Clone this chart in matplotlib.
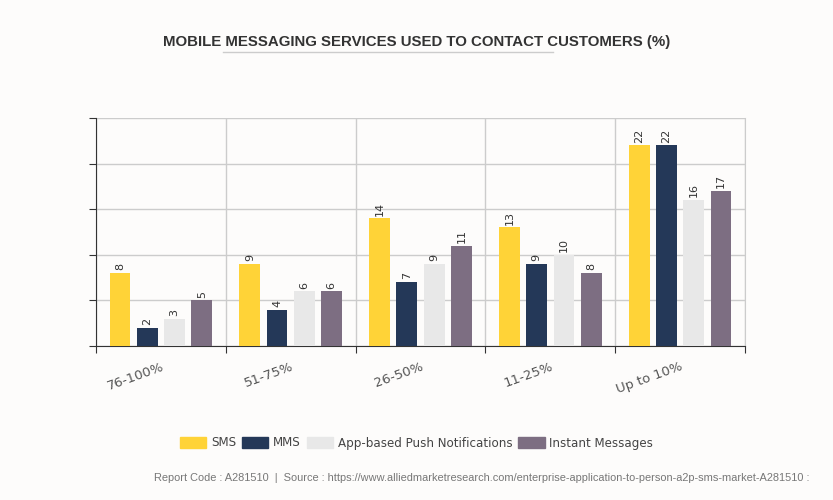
import numpy as np
import matplotlib.pyplot as plt
from matplotlib.lines import Line2D

categories = ['76-100%', '51-75%', '26-50%', '11-25%', 'Up to 10%']
sms = [8, 9, 14, 13, 22]
mms = [2, 4, 7, 9, 22]
app_push = [3, 6, 9, 10, 16]
instant = [5, 6, 11, 8, 17]

series = [
    ('SMS', sms, '#FFD337'),
    ('MMS', mms, '#243858'),
    ('App-based Push Notifications', app_push, '#E8E8E8'),
    ('Instant Messages', instant, '#7D6E82'),
]

bg = '#FDFCFB'
fig = plt.figure(figsize=(8.33, 5), dpi=100, facecolor=bg)
ax = fig.add_axes([96 / 833, 1 - 346 / 500, (745 - 96) / 833, (346 - 118) / 500])
ax.set_facecolor(bg)

x = np.arange(len(categories))
width = 0.16
step = 0.21
for i, (name, vals, color) in enumerate(series):
    pos = x + (i - 1.5) * step
    bars = ax.bar(pos, vals, width, color=color, label=name, zorder=3)
    for b, v in zip(bars, vals):
        ax.text(b.get_x() + b.get_width() / 2, v + 0.3, str(v), rotation=90,
                ha='center', va='bottom', fontsize=8, color='#333333', zorder=4)

ax.set_xlim(-0.5, len(categories) - 0.5)
ax.set_ylim(0, 25)
ax.set_yticks(np.arange(0, 26, 5))
ax.set_yticklabels([])
ax.set_xticks(np.arange(-0.5, len(categories), 1))
ax.set_xticklabels([])
ax.set_xticks(x, minor=True)
ax.set_xticklabels(categories, minor=True, rotation=20, fontsize=9.5, color='#555555')
ax.tick_params(axis='x', which='minor', length=0, pad=10)
ax.tick_params(axis='x', which='major', length=5, color='#333333')
ax.tick_params(axis='y', length=5, color='#333333')
for lbl in ax.get_xticklabels(minor=True):
    lbl.set_ha('right')
    lbl.set_rotation_mode('anchor')

ax.grid(True, which='major', color='#CCCCCC', linewidth=1, zorder=0)
ax.spines['top'].set_visible(False)
ax.spines['right'].set_color('#CCCCCC')
ax.spines['left'].set_color('#333333')
ax.spines['bottom'].set_color('#333333')

fig.text(0.5, 1 - 42 / 500, 'MOBILE MESSAGING SERVICES USED TO CONTACT CUSTOMERS (%)',
         ha='center', va='center', fontsize=10.8, fontweight='bold', color='#333333',
         family=['Liberation Sans Narrow', 'Liberation Sans'])
fig.add_artist(Line2D([223 / 833, 553 / 833], [1 - 52 / 500] * 2, color='#CCCCCC', linewidth=1))

handles = [plt.Rectangle((0, 0), 1, 1, color=c) for _, _, c in series]
fig.legend(handles, [s[0] for s in series], loc='center', bbox_to_anchor=(0.5, 1 - 443 / 500),
           ncol=4, frameon=False, fontsize=8.6, handlelength=2.2, handleheight=1.1,
           columnspacing=0.5, handletextpad=0.4, labelcolor='#444444')

fig.text(482 / 833, 1 - 478 / 500,
         'Report Code : A281510  |  Source : https://www.alliedmarketresearch.com/enterprise-application-to-person-a2p-sms-market-A281510 :',
         ha='center', va='center', fontsize=7.9, color='#777777', family='Liberation Sans')

fig.savefig('out.png', dpi=100, facecolor=bg)
